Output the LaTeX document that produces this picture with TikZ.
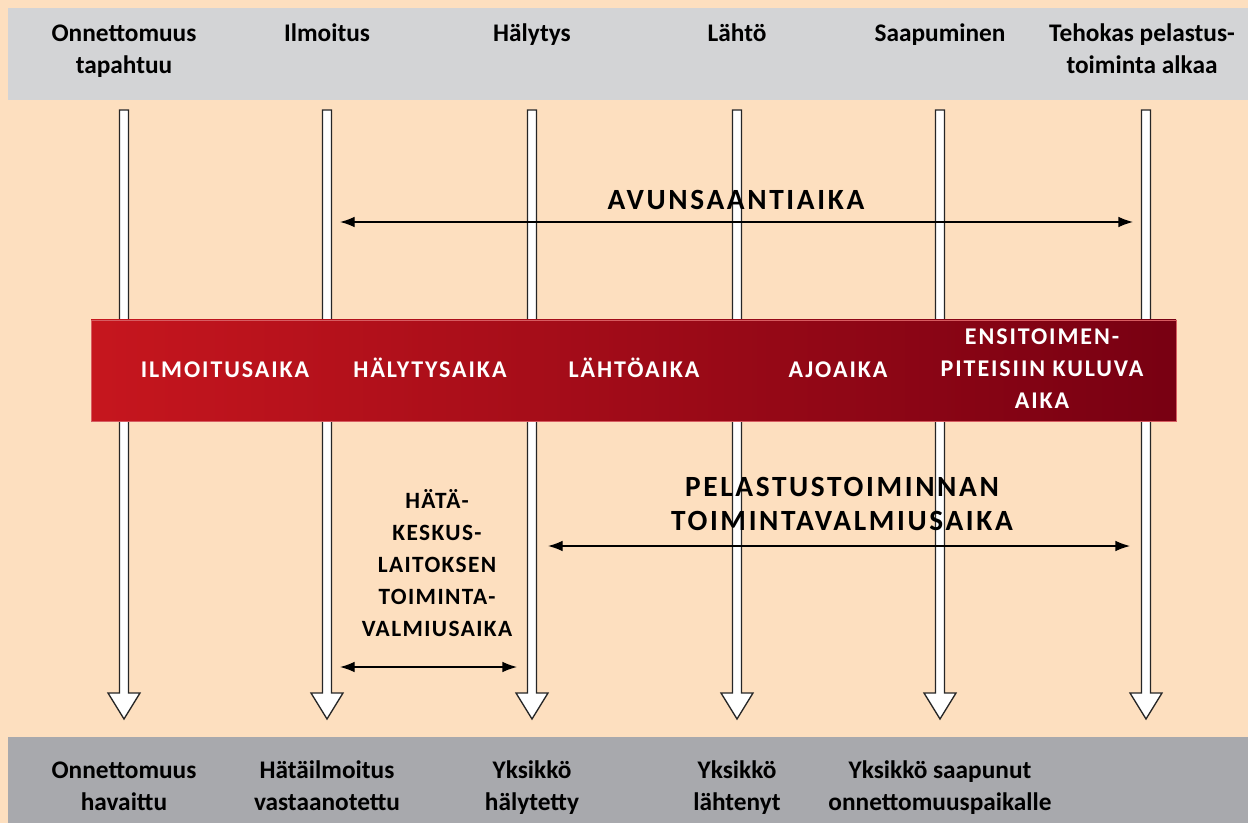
\documentclass[tikz,border=0pt]{standalone}
\usepackage{fontspec}
\setmainfont{Carlito}
\newfontfamily\phasefont[LetterSpace=8]{Carlito}
\newfontfamily\periodfont[LetterSpace=6]{Carlito}
\newfontfamily\bigfont[LetterSpace=9]{Carlito}
\usetikzlibrary{arrows.meta}
\definecolor{peach}{HTML}{FDDFBF}
\definecolor{topgray}{HTML}{D3D4D6}
\definecolor{botgray}{HTML}{A8A9AD}
\definecolor{barleft}{HTML}{C6161E}
\definecolor{barright}{HTML}{780012}
\tikzset{
  event/.style={font=\fontsize{19}{24}\selectfont\bfseries, align=center, anchor=base, inner sep=0pt},
  phase/.style={font=\fontsize{18}{24}\selectfont\phasefont\bfseries, text=white, align=center, anchor=base, inner sep=0pt},
  period/.style={font=\fontsize{17.5}{24}\selectfont\periodfont\bfseries, align=center, anchor=base, inner sep=0pt},
  bigperiod/.style={font=\fontsize{22}{25}\selectfont\bigfont\bfseries, align=center, anchor=base, inner sep=0pt},
  fatarrow/.style={fill=white, draw=black!85, line width=1pt, line join=miter},
  span/.style={{Latex[length=11pt,width=8pt]}-{Latex[length=11pt,width=8pt]}, line width=1pt}
}
\begin{document}
\begin{tikzpicture}[x=0.75pt,y=-0.75pt]
\useasboundingbox (0,0) rectangle (1248,823);
\fill[peach] (0,0) rectangle (1248,823);
\fill[topgray] (8,8) rectangle (1248,100);
\fill[botgray] (8,737) rectangle (1248,823);

% time lines
\foreach \x in {124,327,532,737,940,1146}
  \draw[fatarrow] (\x-4.5,110) -- (\x+4.5,110) -- (\x+4.5,693) -- (\x+16,693)
    -- (\x,719) -- (\x-16,693) -- (\x-4.5,693) -- cycle;

% events above
\node[event] (tapahtuu) at (124,74) {Onnettomuus\\tapahtuu};
\node[event] (ilmoitus) at (327,42) {Ilmoitus};
\node[event] (halytys) at (532,42) {Hälytys};
\node[event] (lahto) at (737,42) {Lähtö};
\node[event] (saapuminen) at (940,42) {Saapuminen};
\node[event] (tehokas) at (1142,74) {Tehokas pelastus-\\toiminta alkaa};

% events below
\node[event] (havaittu) at (124,810) {Onnettomuus\\havaittu};
\node[event] (vastaanotettu) at (327,810) {Hätäilmoitus\\vastaanotettu};
\node[event] (halytetty) at (532,810) {Yksikkö\\hälytetty};
\node[event] (lahtenyt) at (737,810) {Yksikkö\\lähtenyt};
\node[event] (saapunut) at (940,810) {Yksikkö saapunut\\onnettomuuspaikalle};

% phases
\shade[left color=barleft, right color=barright] (91,320) rectangle (1176,421);
\draw[barleft!70!white, line width=0.6pt] (91,320) rectangle (1176,421);
\node[phase] (ilmoitusaika) at (225,377) {ILMOITUSAIKA};
\node[phase] (halytysaika) at (430,377) {HÄLYTYSAIKA};
\node[phase] (lahtoaika) at (634,377) {LÄHTÖAIKA};
\node[phase] (ajoaika) at (838,377) {AJOAIKA};
\node[phase] (ensitoimet) at (1042,408) {ENSITOIMEN-\\PITEISIIN KULUVA\\AIKA};

% periods
\node[bigperiod] (avunsaanti) at (736,210) {AVUNSAANTIAIKA};
\coordinate (avA) at (340,222);
\coordinate (avB) at (1133,222);
\draw[span] (avA) -- (avB);

\node[bigperiod] (pelastus) at (842,530) {PELASTUSTOIMINNAN\\TOIMINTAVALMIUSAIKA};
\coordinate (peA) at (548,546);
\coordinate (peB) at (1130,546);
\draw[span] (peA) -- (peB);

\node[period] (hatakeskus) at (437,636) {HÄTÄ-\\KESKUS-\\LAITOKSEN\\TOIMINTA-\\VALMIUSAIKA};
\coordinate (haA) at (340,667);
\coordinate (haB) at (517,667);
\draw[span] (haA) -- (haB);
\end{tikzpicture}
\end{document}
